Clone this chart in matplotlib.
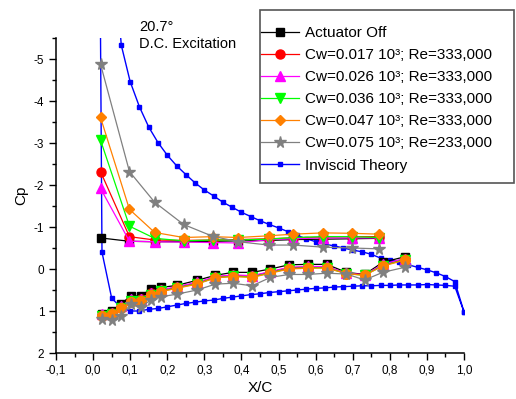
import numpy as np
import matplotlib
matplotlib.use('Agg')
import matplotlib.pyplot as plt
from matplotlib.patches import Rectangle
from matplotlib.ticker import MultipleLocator, FixedLocator

plt.rcParams['font.family'] = ['Liberation Sans', 'DejaVu Sans']

# pressure taps, upper (suction) surface
x_up = [0.020, 0.098, 0.166, 0.244, 0.322, 0.391, 0.473, 0.540, 0.620, 0.697, 0.770]
off_up = [-0.74, -0.66, -0.65, -0.65, -0.66, -0.67, -0.68, -0.70, -0.71, -0.72, -0.73]
c017_up = [-2.32, -0.77, -0.69, -0.68, -0.69, -0.70, -0.72, -0.74, -0.76, -0.77, -0.77]
c026_up = [-1.92, -0.66, -0.65, -0.64, -0.63, -0.62, -0.70, -0.72, -0.74, -0.74, -0.74]
c036_up = [-3.07, -1.02, -0.73, -0.67, -0.69, -0.69, -0.71, -0.75, -0.77, -0.77, -0.75]
c047_up = [-3.61, -1.42, -0.87, -0.75, -0.77, -0.75, -0.79, -0.83, -0.86, -0.85, -0.83]
c075_up = [-4.88, -2.32, -1.59, -1.06, -0.78, -0.65, -0.57, -0.57, -0.52, -0.50, -0.48]

# pressure taps, lower (pressure) surface
x_low = [0.025, 0.051, 0.076, 0.101, 0.128, 0.155, 0.183, 0.226, 0.280, 0.330,
         0.377, 0.429, 0.478, 0.528, 0.579, 0.630, 0.683, 0.732, 0.781, 0.840]
off_low = [1.08, 1.00, 0.83, 0.64, 0.64, 0.48, 0.44, 0.39, 0.27, 0.15,
           0.08, 0.08, 0.00, -0.10, -0.11, -0.11, 0.08, 0.13, -0.16, -0.29]
c017_low = [1.09, 1.05, 0.90, 0.74, 0.72, 0.58, 0.51, 0.43, 0.33, 0.19,
            0.15, 0.17, 0.07, -0.03, -0.05, -0.05, 0.10, 0.14, -0.10, -0.24]
c026_low = [1.08, 1.04, 0.89, 0.72, 0.71, 0.57, 0.50, 0.42, 0.32, 0.18,
            0.14, 0.16, 0.06, -0.04, -0.06, -0.06, 0.10, 0.14, -0.11, -0.25]
c036_low = [1.11, 1.07, 0.93, 0.77, 0.75, 0.61, 0.53, 0.45, 0.35, 0.21,
            0.17, 0.19, 0.09, -0.01, -0.03, -0.03, 0.11, 0.15, -0.08, -0.22]
c047_low = [1.11, 1.08, 0.94, 0.78, 0.76, 0.62, 0.54, 0.46, 0.36, 0.21,
            0.18, 0.20, 0.10, 0.00, -0.02, -0.02, 0.11, 0.15, -0.07, -0.21]
c075_low = [1.20, 1.21, 1.11, 0.84, 0.91, 0.74, 0.66, 0.60, 0.50, 0.36,
            0.34, 0.40, 0.20, 0.13, 0.13, 0.10, 0.12, 0.26, 0.08, -0.04]

# inviscid theory: trailing edge -> lower surface -> leading edge -> upper surface -> trailing edge
inv_x = [1.0, 0.975, 0.95, 0.925, 0.90, 0.875, 0.85, 0.825, 0.80, 0.775, 0.75, 0.725,
         0.70, 0.675, 0.65, 0.625, 0.60, 0.575, 0.55, 0.525, 0.50, 0.475, 0.45, 0.425,
         0.40, 0.375, 0.35, 0.325, 0.30, 0.275, 0.25, 0.225, 0.20, 0.175, 0.15, 0.125,
         0.10, 0.075, 0.05, 0.024, 0.015,
         0.076, 0.10, 0.125, 0.15, 0.175, 0.20, 0.225, 0.25, 0.275, 0.30, 0.325, 0.35,
         0.375, 0.40, 0.425, 0.45, 0.475, 0.50, 0.525, 0.55, 0.575, 0.60, 0.625, 0.65,
         0.675, 0.70, 0.725, 0.75, 0.775, 0.80, 0.825, 0.85, 0.875, 0.90, 0.925, 0.95,
         0.975, 1.0]
inv_cp = [1.02, 0.41, 0.39, 0.38, 0.37, 0.38, 0.38, 0.38, 0.39, 0.39, 0.40, 0.40,
          0.41, 0.42, 0.43, 0.45, 0.46, 0.48, 0.50, 0.52, 0.54, 0.56, 0.59, 0.61,
          0.64, 0.67, 0.70, 0.74, 0.76, 0.79, 0.82, 0.86, 0.90, 0.94, 0.96, 1.00,
          1.00, 0.92, 0.69, -0.40, -12.0,
          -5.33, -4.46, -3.86, -3.38, -3.01, -2.71, -2.46, -2.25, -2.05, -1.88, -1.74, -1.59,
          -1.47, -1.35, -1.25, -1.15, -1.06, -0.98, -0.89, -0.80, -0.72, -0.65, -0.59, -0.55,
          -0.50, -0.45, -0.41, -0.35, -0.26, -0.22, -0.17, -0.10, -0.04, 0.02, 0.09, 0.18,
          0.30, 1.02]

labels = ['Actuator Off',
          'Cw=0.017 10³; Re=333,000',
          'Cw=0.026 10³; Re=333,000',
          'Cw=0.036 10³; Re=333,000',
          'Cw=0.047 10³; Re=333,000',
          'Cw=0.075 10³; Re=233,000']
colors = ['black', '#ff0000', '#ff00ff', '#00ff00', '#ff8000', '#808080']
markers = ['s', 'o', '^', 'v', 'D', '*']
low_markers = ['s', 'o', '^', 'v', 'o', '*']
msizes = [6, 6.5, 6.5, 6.5, 5.5, 8.5]
upper = [off_up, c017_up, c026_up, c036_up, c047_up, c075_up]
lower = [off_low, c017_low, c026_low, c036_low, c047_low, c075_low]

fig = plt.figure(figsize=(5.16, 3.99), dpi=100)
ax = fig.add_axes([56 / 516, 46 / 399, 408 / 516, 315 / 399])

ax.plot(inv_x, inv_cp, color='#0000ff', lw=1.0, marker='s', ms=2.2, zorder=2)

handles = []
for i in range(len(labels)):
    ms_low = 7 if (i == 4) else msizes[i]
    ax.plot(x_low, lower[i], color=colors[i], lw=0.9, marker=low_markers[i], ms=ms_low,
            mec=colors[i], zorder=3 + i)
    h, = ax.plot(x_up, upper[i], color=colors[i], lw=0.9, marker=markers[i], ms=msizes[i],
                 mec=colors[i], zorder=3 + i, label=labels[i])
    handles.append(h)
h_inv, = ax.plot([], [], color='#0000ff', lw=1.0, marker='s', ms=2.2, label='Inviscid Theory')
handles.append(h_inv)

ax.set_xlim(-0.1, 1.0)
ax.set_ylim(2, -5.5)
ax.xaxis.set_major_locator(FixedLocator(np.round(np.arange(-0.1, 1.01, 0.1), 2)))
ax.xaxis.set_minor_locator(MultipleLocator(0.05))
ax.yaxis.set_major_locator(MultipleLocator(1))
ax.yaxis.set_minor_locator(MultipleLocator(0.5))
ax.set_xticklabels([('%.1f' % v).replace('.', ',') for v in np.arange(-0.1, 1.01, 0.1)])
ax.set_yticks(range(-5, 3))
ax.set_yticklabels([str(v) for v in range(-5, 3)])
ax.tick_params(which='major', direction='out', length=5, width=1, labelsize=8.5)
ax.tick_params(which='minor', direction='out', length=3, width=1)
ax.spines['top'].set_visible(False)
ax.spines['right'].set_visible(False)
ax.spines['left'].set_linewidth(1.1)
ax.spines['bottom'].set_linewidth(1.1)

ax.set_xlabel('X/C', fontsize=11, labelpad=3)
ax.set_ylabel('Cp', fontsize=11, labelpad=4)

fig.text(139 / 516, 1 - 20 / 399, '20.7°\nD.C. Excitation', fontsize=10.5,
         va='top', ha='left', linespacing=1.3)

# legend box
fig.patches.append(Rectangle((260 / 516, 1 - 183 / 399), 254 / 516, 173 / 399,
                             transform=fig.transFigure, fill=True, facecolor='white',
                             edgecolor='#555555', lw=1.2, zorder=10))
leg = fig.legend(handles=handles, loc='upper left', bbox_to_anchor=(261 / 516, 1 - 26 / 399),
                 frameon=False, fontsize=11, handlelength=2.5, handletextpad=0.35,
                 labelspacing=0.53, borderpad=0, borderaxespad=0)
leg.set_zorder(11)

fig.savefig('out.png', dpi=100)
